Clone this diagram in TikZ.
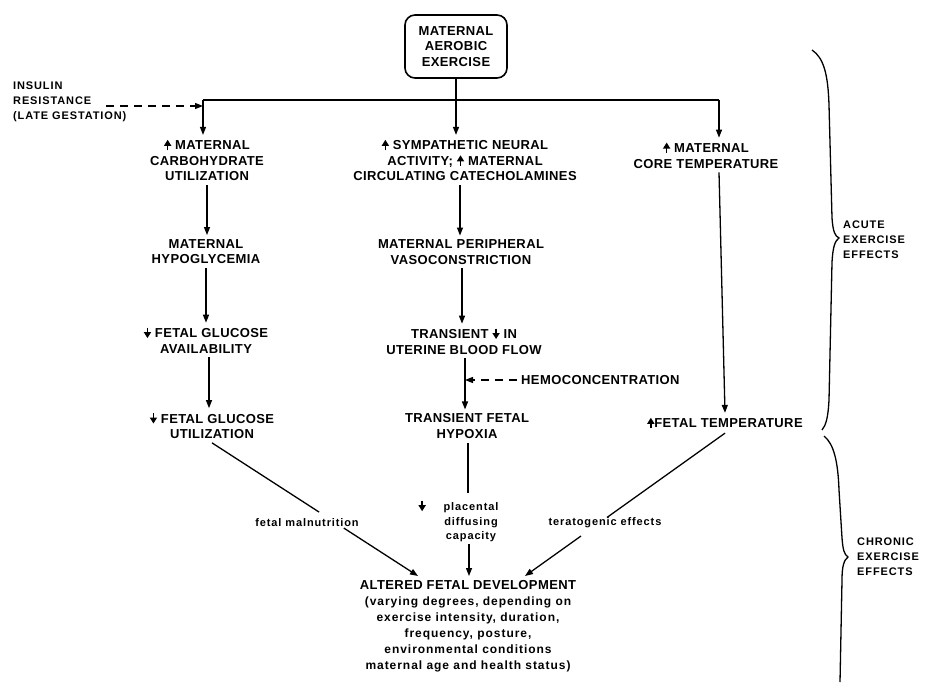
\documentclass[tikz,border=0pt]{standalone}
\usepackage{fontspec}
\setmainfont{Liberation Sans}
\newfontfamily\mainf[LetterSpace=3]{Liberation Sans}
\newfontfamily\smf[LetterSpace=8]{Liberation Sans}
\usetikzlibrary{arrows.meta,calc}
\newcommand\upa{\tikz[baseline=0pt,x=1pt,y=1pt]{\draw[line width=1.4pt,-{Triangle[length=6pt,width=7pt]}] (0,-0.5)--(0,10);}}
\newcommand\dna{\tikz[baseline=0pt,x=1pt,y=1pt]{\draw[line width=1.4pt,-{Triangle[length=6pt,width=7pt]}] (0,10)--(0,-0.5);}}
\tikzset{
  lbl/.style={font=\mainf\bfseries\fontsize{13}{15.5}\selectfont, align=center, inner sep=4pt},
  lowlbl/.style={font=\smf\bfseries\fontsize{11}{14.5}\selectfont, align=center, inner sep=2pt},
  side/.style={font=\smf\bfseries\fontsize{11}{15}\selectfont, align=left, inner sep=0pt},
  conn/.style={line width=1.3pt},
  arr/.style={conn, -{Triangle[length=8pt,width=6pt]}},
  dasharr/.style={arr, dash pattern=on 8pt off 6pt},
  brace/.style={line width=1.3pt},
  boxed/.style={lbl, draw, line width=1.6pt, rounded corners=10pt, minimum width=102pt, minimum height=63pt}
}
\begin{document}
\begin{tikzpicture}[x=1pt,y=-1pt]
\useasboundingbox (0,0) rectangle (925,682);

% nodes
\node[boxed] (ex) at (456,46.5) {MATERNAL\\AEROBIC\\EXERCISE};
\node[side, anchor=west] (ins) at (13,101.5) {INSULIN\\RESISTANCE\\(LATE GESTATION)};

\node[lbl] (n1) at (207,160) {\upa\ MATERNAL\\CARBOHYDRATE\\UTILIZATION};
\node[lbl] (n2) at (465,160) {\upa\ SYMPATHETIC NEURAL\\ACTIVITY; \upa\ MATERNAL\\CIRCULATING CATECHOLAMINES};
\node[lbl] (n3) at (706,155) {\upa\ MATERNAL\\CORE TEMPERATURE};

\node[lbl] (hypo) at (206,251.5) {MATERNAL\\HYPOGLYCEMIA};
\node[lbl] (avail) at (206,340) {\dna\ FETAL GLUCOSE\\AVAILABILITY};
\node[lbl] (util) at (212,425.5) {\dna\ FETAL GLUCOSE\\UTILIZATION};

\node[lbl] (vaso) at (461,252) {MATERNAL PERIPHERAL\\VASOCONSTRICTION};
\node[lbl] (ubf) at (464,341) {TRANSIENT \dna\ IN\\UTERINE BLOOD FLOW};
\node[lbl] (hyp) at (467,426) {TRANSIENT FETAL\\HYPOXIA};
\node[lbl, anchor=west] (hemo) at (517,380) {HEMOCONCENTRATION};

\node[lbl] (ftemp) at (725,423) {\upa FETAL TEMPERATURE};

\node[lowlbl] (pl) at (471,521) {\llap{\dna\hspace{18pt}}placental\\diffusing\\capacity};
\node[lowlbl] (fm) at (307,523) {fetal malnutrition};
\node[lowlbl] (te) at (605,523) {teratogenic effects};

\node[lbl, anchor=north, font=\smf\bfseries\fontsize{12}{16}\selectfont] (alt) at (468,576)
  {{\mainf\bfseries\fontsize{13}{16}\selectfont ALTERED FETAL DEVELOPMENT}\\
   (varying degrees, depending on\\
   exercise intensity, duration,\\
   frequency, posture,\\
   environmental conditions\\
   maternal age and health status)};

\node[side, anchor=west] (acute) at (843,240) {ACUTE\\EXERCISE\\EFFECTS};
\node[side, anchor=west] (chronic) at (857,557) {CHRONIC\\EXERCISE\\EFFECTS};

% top distribution
\coordinate (L) at (203,100);
\coordinate (R) at (719,100);
\draw[conn] (L) -- (R);
\draw[arr] (ex.south) -- (ex.south |- n2.north);
\draw[arr] (L) -- (L |- n1.north);
\draw[arr] (R) -- (R |- n3.north);

% insulin resistance
\coordinate (insE) at (106,106);
\draw[dasharr] (insE) -- (L |- insE);

% left column
\draw[arr] (n1.south) -- (n1.south |- hypo.north);
\draw[arr] (hypo.south) -- (hypo.south |- avail.north);
\draw[arr] ([xshift=3pt]avail.south) -- ([xshift=3pt]avail.south |- util.north);

% middle column
\draw[arr] ([xshift=-5pt]n2.south) -- ([xshift=-5pt]n2.south |- vaso.north);
\draw[arr] ([xshift=1pt]vaso.south) -- ([xshift=1pt]vaso.south |- ubf.north);
\draw[arr] ([xshift=1pt]ubf.south) -- ([xshift=1pt]ubf.south |- hyp.north);
\draw[dasharr] (hemo.west) -- ([xshift=1pt]ubf.south |- hemo.west);
\draw[conn, shorten >=5pt] ([xshift=1pt]hyp.south) -- ([xshift=1pt]hyp.south |- pl.north);
\draw[arr] ([xshift=-2pt]pl.south) -- ([xshift=-2pt]pl.south |- alt.north);

% right column
\draw[arr] (R |- n3.south) -- (ftemp.north);

% converging diagonals
\coordinate (altL) at ([xshift=-50pt]alt.north);
\coordinate (altR) at ([xshift=57pt]alt.north);
\draw[conn] (util.south) -- ($(util.south)!0.52!(altL)$);
\draw[arr] ($(util.south)!0.64!(altL)$) -- (altL);
\draw[conn] (ftemp.south) -- ($(ftemp.south)!0.59!(altR)$);
\draw[arr] ($(ftemp.south)!0.72!(altR)$) -- (altR);

% braces
\draw[brace] (812,50) .. controls (824,58) and (828,75) .. (829,105)
  -- (832,218) .. controls (833,232) and (835,236) .. (839,238)
  .. controls (835,241) and (833,246) .. (832,262)
  -- (829,400) .. controls (828,418) and (826,425) .. (822,430);
\draw[brace] (824,436) .. controls (834,444) and (838,462) .. (839,490)
  -- (842,538) .. controls (843,550) and (844,554) .. (848,557)
  .. controls (844,560) and (842,566) .. (842,580)
  -- (840,682);
\end{tikzpicture}
\end{document}
